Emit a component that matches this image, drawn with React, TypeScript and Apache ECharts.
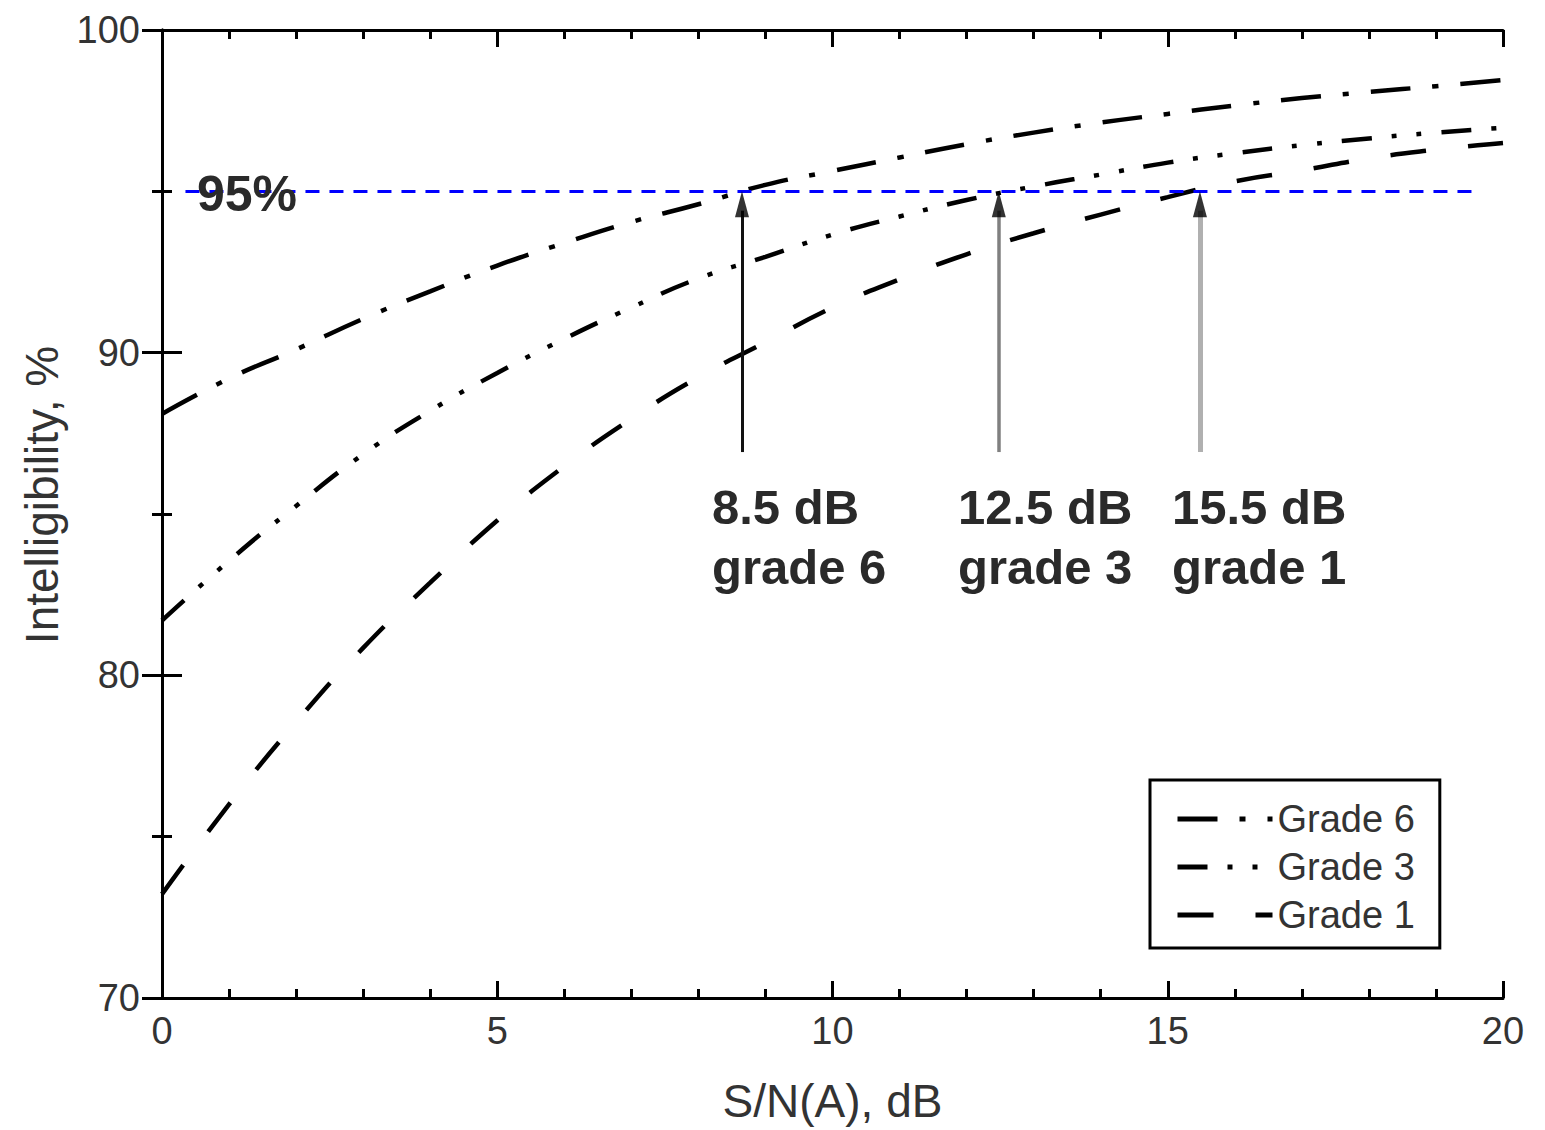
import React, { useEffect, useRef } from 'react';
import * as echarts from 'echarts';

// ---- data ----
const snrDb = [0, 1, 2, 3, 4, 5, 6, 7, 8, 9, 10, 11, 12, 13, 14, 15, 16, 17, 18, 19, 20];
const grade6 = [88.1, 89.2, 90.1, 91.05, 91.9, 92.7, 93.4, 94.05, 94.6, 95.2, 95.63, 96.05, 96.46, 96.82, 97.13, 97.4, 97.66, 97.89, 98.08, 98.26, 98.45];
const grade3 = [81.7, 83.55, 85.25, 86.85, 88.2, 89.37, 90.43, 91.4, 92.3, 92.97, 93.66, 94.22, 94.73, 95.15, 95.52, 95.89, 96.18, 96.43, 96.64, 96.82, 96.97];
const grade1 = [73.22, 76.0, 78.55, 80.85, 82.87, 84.8, 86.48, 87.95, 89.24, 90.32, 91.4, 92.27, 93.05, 93.7, 94.28, 94.82, 95.31, 95.65, 96.02, 96.29, 96.5];
const seriesNames = ['Grade 6', 'Grade 3', 'Grade 1'];

const thresholdPct = 95;
const thresholdFrom = 0.35;
const thresholdTo = 19.6;
const thresholdLabel = '95%';

const arrowX = [8.65, 12.48, 15.48];
const arrowBottom = 86.92;
const arrowLabels = ['8.5 dB\ngrade 6', '12.5 dB\ngrade 3', '15.5 dB\ngrade 1'];

const xAxisName = 'S/N(A), dB';
const yAxisName = 'Intelligibility, %';

const NARROW = "'Liberation Sans Narrow', 'Liberation Sans', Arial, sans-serif";
const SANS = "'Liberation Sans', Arial, sans-serif";

export default function App() {
  const ref = useRef<HTMLDivElement>(null);

  useEffect(() => {
    if (!ref.current) return;
    const chart = echarts.init(ref.current, undefined, { renderer: 'svg' });

    const axisLine = { show: true, lineStyle: { color: '#000', width: 3 } };
    const axisTick = { show: true, inside: true, length: 18, lineStyle: { color: '#000', width: 3 } };

    const lineStyles = [
      { type: [40, 22, 6, 22], width: 4.5 },
      { type: [30, 20, 5, 20, 5, 20], width: 4.5 },
      { type: [36, 42], width: 4.5 },
    ];
    const values = [grade6, grade3, grade1];

    const curveSeries = seriesNames.map((name, k) => ({
      name,
      type: 'line',
      smooth: true,
      symbol: 'none',
      xAxisIndex: 0,
      yAxisIndex: 0,
      data: snrDb.map((x, i) => [x, values[k][i]]),
      lineStyle: { color: '#000', width: lineStyles[k].width, type: lineStyles[k].type, cap: 'butt' },
      itemStyle: { color: '#000' },
      z: 3,
    }));

    const shaftColors = ['#111', '#808080', '#b0b0b0'];
    const shaftWidths = [3, 3.5, 5];

    const option: any = {
      animation: false,
      backgroundColor: '#fff',
      grid: { left: 162, right: 42, top: 30, bottom: 132, containLabel: false },
      legend: {
        data: seriesNames,
        orient: 'vertical',
        left: 1150,
        top: 780,
        padding: [20, 25, 14, 25],
        itemWidth: 95,
        itemHeight: 20,
        itemGap: 10,
        borderColor: '#000',
        borderWidth: 3,
        backgroundColor: '#fff',
        itemStyle: { opacity: 0 },
        lineStyle: { width: 5, color: '#000' },
        textStyle: { fontSize: 38, fontFamily: SANS, color: '#333', lineHeight: 36 },
      },
      xAxis: [
        {
          type: 'value', min: 0, max: 20, interval: 5, position: 'bottom',
          name: xAxisName, nameLocation: 'middle', nameGap: 80,
          nameTextStyle: { fontSize: 46, fontFamily: SANS, color: '#333' },
          axisLine, axisTick: { ...axisTick, length: 17 },
          minorTick: { show: true, splitNumber: 5, length: 9, lineStyle: { color: '#000', width: 3 } },
          splitLine: { show: false },
          axisLabel: { fontSize: 38, fontFamily: NARROW, color: '#333', margin: 14 },
        },
        {
          type: 'value', min: 0, max: 20, interval: 5, position: 'top',
          axisLine, axisTick: { ...axisTick, length: 17 },
          minorTick: { show: true, splitNumber: 5, length: 9, lineStyle: { color: '#000', width: 3 } },
          splitLine: { show: false }, axisLabel: { show: false },
        },
      ],
      yAxis: [
        {
          type: 'value', min: 70, max: 100, interval: 10, position: 'left',
          axisLine, axisTick: { ...axisTick, length: 20 },
          minorTick: { show: true, splitNumber: 2, length: 10, lineStyle: { color: '#000', width: 3 } },
          splitLine: { show: false },
          axisLabel: { fontSize: 38, fontFamily: NARROW, color: '#333', margin: 22 },
        },
        {
          type: 'value', min: 70, max: 100, interval: 10, position: 'right',
          axisLine, axisTick: { ...axisTick, length: 20 },
          minorTick: { show: true, splitNumber: 2, length: 10, lineStyle: { color: '#000', width: 3 } },
          splitLine: { show: false }, axisLabel: { show: false },
        },
      ],
      series: [
        ...curveSeries,
        {
          name: 'threshold',
          type: 'line',
          data: [],
          xAxisIndex: 0,
          yAxisIndex: 0,
          markLine: {
            silent: true,
            symbol: ['none', 'none'],
            label: { show: false },
            lineStyle: { color: '#0000ff', width: 3, type: [14, 10] },
            data: [[{ coord: [thresholdFrom, thresholdPct] }, { coord: [thresholdTo, thresholdPct] }]],
          },
          z: 4,
        },
        {
          name: 'arrows',
          type: 'scatter',
          xAxisIndex: 0,
          yAxisIndex: 0,
          symbol: 'triangle',
          symbolSize: [14, 26],
          symbolOffset: [0, 13],
          itemStyle: { color: '#000' },
          data: arrowX.map((x) => [x, thresholdPct]),
          markLine: {
            silent: true,
            symbol: ['none', 'none'],
            label: { show: false },
            data: arrowX.map((x, i) => [
              { coord: [x, arrowBottom], lineStyle: { color: shaftColors[i], width: shaftWidths[i], type: 'solid' } },
              { coord: [x, thresholdPct - 0.6] },
            ]),
          },
          z: 5,
        },
      ],
      graphic: [
        {
          type: 'text',
          z: 10,
          x: 42,
          y: 495,
          rotation: Math.PI / 2,
          style: {
            x: 0, y: 0, text: yAxisName,
            fontSize: 46, fontFamily: SANS, fill: '#333',
            align: 'center', verticalAlign: 'middle',
          },
        },
        {
          type: 'text',
          z: 10,
          style: {
            x: 197, y: 194, text: thresholdLabel,
            fontSize: 50, fontWeight: 'bold', fontFamily: SANS, fill: '#2a2a2a',
            verticalAlign: 'middle', align: 'left',
          },
        },
        ...arrowLabels.map((t, i) => ({
          type: 'text',
          z: 10,
          style: {
            x: [712, 958, 1172][i], y: 537, text: t,
            fontSize: 49, fontWeight: 'bold', fontFamily: SANS, fill: '#2a2a2a',
            lineHeight: 60, verticalAlign: 'middle', align: 'left',
          },
        })),
      ],
    };

    chart.setOption(option);
    return () => chart.dispose();
  }, []);

  return (
    <div
      ref={ref}
      style={{ position: 'fixed', left: 0, top: 0, width: 1545, height: 1130, background: '#fff' }}
    />
  );
}
